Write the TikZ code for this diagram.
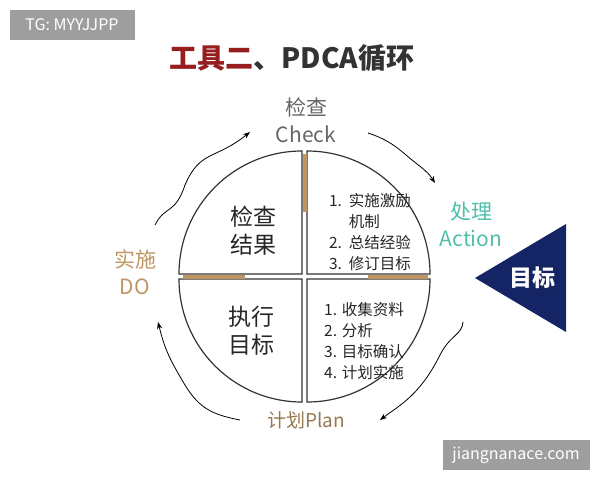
\documentclass[tikz,border=0pt]{standalone}
\usepackage{fontspec}
\setmainfont{Noto Sans CJK SC}
\usetikzlibrary{arrows.meta}
\definecolor{navy}{RGB}{20,36,100}
\definecolor{tan}{RGB}{190,150,100}
\definecolor{teal2}{RGB}{80,190,170}
\definecolor{title}{RGB}{150,30,30}
\tikzset{
    quarter/.style={draw=black!80, line width=1.2pt, fill=white},
    bar/.style={draw=tan, line width=4pt},
    wave/.style={draw=black, line width=0.8pt, -{Stealth[length=7pt]}},
    stamp/.style={fill=black!38, text=white, inner sep=0pt, font=\fontsize{16}{16}\selectfont},
    body/.style={font=\fontsize{23}{28}\selectfont, align=center, text=black!85},
    items/.style={font=\fontsize{15.5}{21}\selectfont, align=left, text=black!85}
}
\begin{document}
\begin{tikzpicture}[x=1pt, y=-1pt]
\useasboundingbox (0,0) rectangle (600,480);

\begin{scope}
    \node (tg) at (72,25) [stamp, minimum width=125pt, minimum height=30pt] {TG: MYYJJPP};
    \node (site) at (516,455) [stamp, minimum width=147pt, minimum height=30pt] {jiangnanace.com};
    \node (title) at (292,58) [font=\fontsize{28}{28}\selectfont\bfseries] {\textcolor{title}{工具二}\textcolor{black!80}{、PDCA循环}};
\end{scope}

% circle in four quarters
\coordinate (tl) at (302,274);
\coordinate (tr) at (307,274);
\coordinate (bl) at (302,279);
\coordinate (br) at (307,279);
\draw [quarter] (tl) -- ++(-123,0) arc[start angle=180, end angle=90, radius=123pt] -- cycle;
\draw [quarter] (tr) -- ++(0,-123) arc[start angle=90, end angle=0, radius=123pt] -- cycle;
\draw [quarter] (bl) -- ++(0,123) arc[start angle=270, end angle=180, radius=123pt] -- cycle;
\draw [quarter] (br) -- ++(123,0) arc[start angle=0, end angle=-90, radius=123pt] -- cycle;
\draw [bar] (304.5,154) -- (304.5,212);
\draw [bar] (183,276.5) -- (245,276.5);
\draw [bar] (368,276.5) -- (428,276.5);

\node (result) at (253,231) [body] {检查\\结果};
\node (execute) at (251,331) [body] {执行\\目标};
\node (actlist) at (370,232) [items] {1.\ \ 实施激励\\\hphantom{1.\ \ }机制\\2.\ \ 总结经验\\3.\ \ 修订目标};
\node (planlist) at (364,341) [items] {1. 收集资料\\2. 分析\\3. 目标确认\\4. 计划实施};

% stage labels
\node (check) at (306,120) [align=center, text=black!60, font=\fontsize{21}{27}\selectfont] {检查\\Check};
\node (action) at (471,224) [align=center, text=teal2, font=\fontsize{21}{27}\selectfont] {处理\\Action};
\node (do) at (135,272) [align=center, text=tan, font=\fontsize{21}{27}\selectfont] {实施\\DO};
\node (plan) at (306,420) [text=tan!80!black, font=\fontsize{19}{19}\selectfont] {计划Plan};

% target
\fill [navy] (475,278) -- (566,224) -- (566,332) -- cycle;
\node (target) at (532,278) [text=white, font=\fontsize{23}{23}\selectfont\bfseries] {目标};

% cycle arrows
\draw [wave] (155,225) .. controls (165,205) and (175,215) .. (185,185)
    .. controls (200,150) and (215,160) .. (250,132);
\draw [wave] (368,133) .. controls (390,140) and (400,150) .. (412,160)
    .. controls (422,168) and (428,172) .. (435,183);
\draw [wave] (463,322) .. controls (462,335) and (450,335) .. (440,355)
    .. controls (420,395) and (400,405) .. (380,420);
\draw [wave] (240,420) .. controls (215,415) and (200,410) .. (185,385)
    .. controls (170,360) and (165,350) .. (158,322);
\end{tikzpicture}
\end{document}
